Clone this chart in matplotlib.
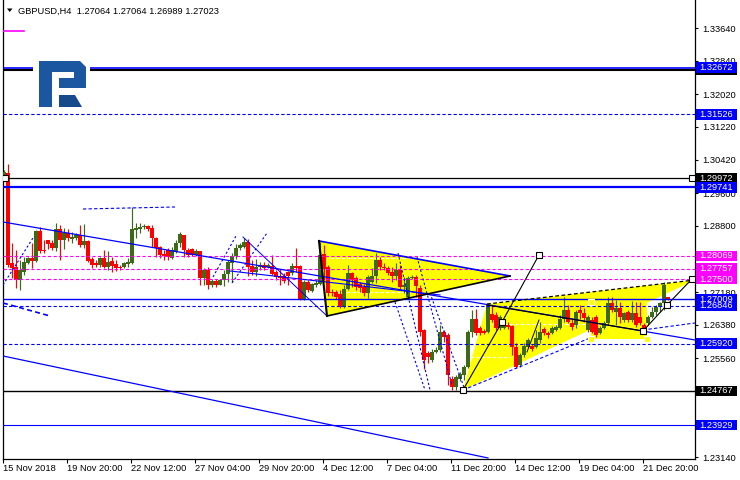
import numpy as np
import matplotlib
matplotlib.use("Agg")
import matplotlib.pyplot as plt
from matplotlib.patches import Rectangle, Polygon

plt.rcParams['font.family'] = ['Liberation Sans', 'DejaVu Sans']

# ---------------- data ----------------
title = "GBPUSD,H4  1.27064 1.27064 1.26989 1.27023"

opens = [
1.3005, 1.3010, 1.2790, 1.2780, 1.2748, 1.2768, 1.2790, 1.2802, 1.2794, 1.2868,
1.2821, 1.2846, 1.2838, 1.2826, 1.2873, 1.2846, 1.2863, 1.2848, 1.2851, 1.2858,
1.2834, 1.2843, 1.2799, 1.2790, 1.2785, 1.2802, 1.2780, 1.2794, 1.2787, 1.2780,
1.2780, 1.2787, 1.2790, 1.2870, 1.2873, 1.2877, 1.2880, 1.2875, 1.2851, 1.2829,
1.2812, 1.2821, 1.2802, 1.2816, 1.2838, 1.2858, 1.2821, 1.2824, 1.2809, 1.2819,
1.2753, 1.2772, 1.2736, 1.2745, 1.2736, 1.2748, 1.2763, 1.2790, 1.2807, 1.2826,
1.2829, 1.2841, 1.2782, 1.2768, 1.2780, 1.2785, 1.2780, 1.2782, 1.2768, 1.2758,
1.2758, 1.2768, 1.2765, 1.2782, 1.2782, 1.2701, 1.2743, 1.2721, 1.2736, 1.2738,
1.2812, 1.2780, 1.2719, 1.2719, 1.2714, 1.2682, 1.2726, 1.2765, 1.2753, 1.2738,
1.2731, 1.2716, 1.2743, 1.2758, 1.2797, 1.2780, 1.2777, 1.2768, 1.2758, 1.2772,
1.2731, 1.2706, 1.2753, 1.2755, 1.2728, 1.2626, 1.2569, 1.2552, 1.2572, 1.2577,
1.2621, 1.2613, 1.2506, 1.2486, 1.2506, 1.2516, 1.2535, 1.2621, 1.2653, 1.2631,
1.2623, 1.2621, 1.2665, 1.2662, 1.2631, 1.2631, 1.2638, 1.2636, 1.2584, 1.2540,
1.2565, 1.2584, 1.2587, 1.2584, 1.2601, 1.2628, 1.2618, 1.2618, 1.2626, 1.2631,
1.2653, 1.2675, 1.2643, 1.2638, 1.2675, 1.2667, 1.2626, 1.2650, 1.2657, 1.2618,
1.2631, 1.2643, 1.2692, 1.2670, 1.2680, 1.2650, 1.2670, 1.2650, 1.2667, 1.2657,
1.2638, 1.2643, 1.2657, 1.2670, 1.2682, 1.2692, 1.27064]

highs = [
1.3017, 1.3032, 1.2838, 1.2821, 1.2797, 1.2804, 1.2804, 1.2838, 1.2870, 1.2877,
1.2846, 1.2846, 1.2846, 1.2887, 1.2882, 1.2875, 1.2873, 1.2865, 1.2863, 1.2882,
1.2885, 1.2846, 1.2804, 1.2797, 1.2804, 1.2821, 1.2819, 1.2804, 1.2797, 1.2785,
1.2792, 1.2802, 1.2926, 1.2887, 1.2887, 1.2885, 1.2882, 1.2882, 1.2853, 1.2831,
1.2821, 1.2826, 1.2829, 1.2846, 1.2865, 1.2858, 1.2826, 1.2826, 1.2824, 1.2819,
1.2777, 1.2780, 1.2750, 1.2750, 1.2750, 1.2772, 1.2797, 1.2814, 1.2836, 1.2838,
1.2851, 1.2848, 1.2797, 1.2799, 1.2792, 1.2792, 1.2790, 1.2809, 1.2772, 1.2775,
1.2765, 1.2770, 1.2790, 1.2826, 1.2785, 1.2748, 1.2748, 1.2741, 1.2748, 1.2841,
1.2834, 1.2785, 1.2726, 1.2724, 1.2724, 1.2736, 1.2785, 1.2768, 1.2758, 1.2743,
1.2738, 1.2760, 1.2777, 1.2814, 1.2804, 1.2790, 1.2782, 1.2780, 1.2790, 1.2785,
1.2755, 1.2758, 1.2760, 1.2760, 1.2736, 1.2628, 1.2574, 1.2579, 1.2584, 1.2638,
1.2626, 1.2618, 1.2513, 1.2516, 1.2523, 1.2540, 1.2626, 1.2675, 1.2677, 1.2636,
1.2628, 1.2687, 1.2687, 1.2670, 1.2662, 1.2650, 1.2645, 1.2638, 1.2594, 1.2569,
1.2594, 1.2606, 1.2592, 1.2626, 1.2645, 1.2633, 1.2623, 1.2636, 1.2638, 1.2662,
1.2706, 1.2687, 1.2655, 1.2675, 1.2687, 1.2680, 1.2662, 1.2657, 1.2662, 1.2636,
1.2648, 1.2706, 1.2706, 1.2699, 1.2694, 1.2670, 1.2675, 1.2697, 1.2694, 1.2694,
1.2643, 1.2662, 1.2682, 1.2687, 1.2694, 1.2743, 1.27064]

lows = [
1.3002, 1.2780, 1.2753, 1.2728, 1.2724, 1.2760, 1.2788, 1.2777, 1.2792, 1.2814,
1.2814, 1.2824, 1.2821, 1.2819, 1.2797, 1.2824, 1.2843, 1.2838, 1.2846, 1.2829,
1.2826, 1.2792, 1.2777, 1.2780, 1.2780, 1.2777, 1.2772, 1.2768, 1.2770, 1.2772,
1.2777, 1.2780, 1.2787, 1.2851, 1.2863, 1.2873, 1.2868, 1.2829, 1.2804, 1.2802,
1.2797, 1.2797, 1.2799, 1.2814, 1.2829, 1.2804, 1.2804, 1.2807, 1.2807, 1.2736,
1.2736, 1.2726, 1.2731, 1.2731, 1.2736, 1.2733, 1.2743, 1.2743, 1.2799, 1.2821,
1.2826, 1.2758, 1.2760, 1.2758, 1.2772, 1.2772, 1.2777, 1.2760, 1.2748, 1.2736,
1.2741, 1.2736, 1.2760, 1.2768, 1.2699, 1.2699, 1.2719, 1.2719, 1.2731, 1.2736,
1.2748, 1.2709, 1.2709, 1.2701, 1.2679, 1.2679, 1.2724, 1.2731, 1.2724, 1.2719,
1.2709, 1.2704, 1.2741, 1.2741, 1.2772, 1.2772, 1.2760, 1.2743, 1.2748, 1.2726,
1.2716, 1.2704, 1.2750, 1.2706, 1.2611, 1.2530, 1.2545, 1.2548, 1.2569, 1.2572,
1.2596, 1.2491, 1.2479, 1.2479, 1.2501, 1.2503, 1.2533, 1.2609, 1.2613, 1.2613,
1.2616, 1.2618, 1.2645, 1.2626, 1.2626, 1.2628, 1.2628, 1.2565, 1.2533, 1.2535,
1.2560, 1.2582, 1.2574, 1.2582, 1.2594, 1.2613, 1.2606, 1.2616, 1.2623, 1.2628,
1.2645, 1.2643, 1.2626, 1.2631, 1.2653, 1.2645, 1.2621, 1.2618, 1.2609, 1.2616,
1.2628, 1.2638, 1.2670, 1.2638, 1.2643, 1.2645, 1.2645, 1.2645, 1.2633, 1.2638,
1.2623, 1.2638, 1.2655, 1.2662, 1.2670, 1.2675, 1.26989]

closes = [
1.3012, 1.2785, 1.2777, 1.2748, 1.2772, 1.2792, 1.2802, 1.2794, 1.2868, 1.2819,
1.2819, 1.2836, 1.2826, 1.2873, 1.2846, 1.2863, 1.2851, 1.2853, 1.2858, 1.2834,
1.2843, 1.2794, 1.2785, 1.2785, 1.2802, 1.2780, 1.2792, 1.2782, 1.2777, 1.2777,
1.2790, 1.2792, 1.2873, 1.2875, 1.2877, 1.2880, 1.2873, 1.2851, 1.2826, 1.2809,
1.2807, 1.2804, 1.2821, 1.2838, 1.2860, 1.2821, 1.2809, 1.2809, 1.2819, 1.2753,
1.2772, 1.2736, 1.2745, 1.2736, 1.2748, 1.2763, 1.2792, 1.2807, 1.2826, 1.2834,
1.2841, 1.2780, 1.2768, 1.2780, 1.2785, 1.2777, 1.2785, 1.2763, 1.2755, 1.2753,
1.2745, 1.2758, 1.2782, 1.2777, 1.2701, 1.2743, 1.2724, 1.2738, 1.2741, 1.2809,
1.2775, 1.2716, 1.2716, 1.2706, 1.2682, 1.2726, 1.2765, 1.2748, 1.2731, 1.2728,
1.2716, 1.2755, 1.2758, 1.2797, 1.2780, 1.2777, 1.2765, 1.2758, 1.2772, 1.2731,
1.2736, 1.2753, 1.2755, 1.2733, 1.2621, 1.2552, 1.2560, 1.2572, 1.2577, 1.2621,
1.2609, 1.2516, 1.2486, 1.2511, 1.2518, 1.2535, 1.2621, 1.2653, 1.2618, 1.2618,
1.2618, 1.2687, 1.2650, 1.2631, 1.2657, 1.2638, 1.2633, 1.2584, 1.2535, 1.2565,
1.2587, 1.2601, 1.2579, 1.2606, 1.2621, 1.2618, 1.2613, 1.2631, 1.2633, 1.2653,
1.2675, 1.2645, 1.2633, 1.2670, 1.2667, 1.2655, 1.2657, 1.2621, 1.2613, 1.2631,
1.2643, 1.2692, 1.2675, 1.2680, 1.2657, 1.2667, 1.2650, 1.2667, 1.2638, 1.2643,
1.2626, 1.2657, 1.2670, 1.2682, 1.2692, 1.2736, 1.27023]

x_tick_bars = [-0.25, 15.75, 31.75, 47.75, 63.75, 79.75, 95.75, 111.75, 127.75, 143.75, 159.75]
x_tick_labels = ["15 Nov 2018", "19 Nov 20:00", "22 Nov 12:00", "27 Nov 04:00",
                 "29 Nov 20:00", "4 Dec 12:00", "7 Dec 04:00", "11 Dec 20:00",
                 "14 Dec 12:00", "19 Dec 04:00", "21 Dec 20:00"]
y_ticks = [1.33640, 1.32840, 1.32020, 1.31220, 1.30420, 1.29600, 1.28800,
           1.27980, 1.27180, 1.26380, 1.25560, 1.24760, 1.23940, 1.23140]
# tick labels fully covered by price boxes in the reference are left blank
y_hidden = [1.27980, 1.24760, 1.23940]

# horizontal levels: (price, color, style, width)
h_levels = [
    (1.32610, 'black', '-', 1.5),
    (1.32672, '#0000ff', '-', 1.2),
    (1.31526, '#0000ff', 'dash', 0.8),
    (1.29741, '#0000ff', '-', 1.6),
    (1.28069, '#ff00ff', 'mdash', 0.8),
    (1.27757, '#ff00ff', 'mdash', 0.8),
    (1.27500, '#ff00ff', 'mdash', 0.8),
    (1.27009, '#0000ff', '-', 1.0),
    (1.26846, '#0000ff', 'dash', 0.8),
    (1.25920, '#0000ff', 'dash', 0.8),
    (1.24767, 'black', '-', 1.0),
    (1.23929, '#0000ff', '-', 0.8),
]
# right-axis price boxes (price, box colour)
price_boxes = [
    (1.32610, 'black'), (1.32672, '#0000ff'), (1.31526, '#0000ff'),
    (1.29972, 'black'), (1.29741, '#0000ff'),
    (1.28069, '#ff00ff'), (1.27757, '#ff00ff'), (1.27500, '#ff00ff'),
    (1.26846, '#0000ff'), (1.27009, '#0000ff'), (1.25920, '#0000ff'),
    (1.24767, 'black'), (1.23929, '#0000ff'),
]
box_texts = {1.32610: "", 1.32672: "1.32672", 1.31526: "1.31526", 1.29972: "1.29972",
             1.29741: "1.29741", 1.28069: "1.28069", 1.27757: "1.27757", 1.27500: "1.27500",
             1.26846: "1.26846", 1.27009: "1.27009", 1.25920: "1.25920",
             1.24767: "1.24767", 1.23929: "1.23929"}

# black level with square ends
level_black_bars = [0.25, 172.0]
level_black_price = 1.29972

# trend lines: (bar0, price0, bar1, price1, colour, style, width)
trend_lines = [
    (-0.25, 1.28897, 172.75, 1.26012, '#0000ff', '-', 0.9),
    (-0.25, 1.25621, 121.0, 1.23127, '#0000ff', '-', 0.9),
    (59.75, 1.28530, 80.75, 1.26599, '#0000ff', '-', 0.7),
    (56.5, 1.27699, 109.0, 1.27112, '#0000ff', '-', 0.8),
    (19.75, 1.29215, 42.75, 1.29264, '#0000ff', 'dash', 0.8),
    (-0.25, 1.26917, 11.5, 1.26599, '#0000ff', 'dash', 1.2),
    (-0.25, 1.27357, 7.25, 1.28506, '#0000ff', 'dot', 0.8),
    (52.25, 1.27553, 58.0, 1.28555, '#0000ff', 'dot', 0.8),
    (57.0, 1.27406, 65.75, 1.28628, '#0000ff', 'dot', 0.8),
    (98.5, 1.28139, 106.5, 1.24789, '#0000ff', 'dot', 0.8),
    (97.75, 1.26941, 105.25, 1.24789, '#0000ff', 'dot', 0.8),
    (103.25, 1.28042, 112.0, 1.24912, '#0000ff', 'dot', 0.8),
    (106.5, 1.27161, 115.25, 1.24789, '#0000ff', 'dot', 0.8),
    (114.75, 1.24789, 146.5, 1.26061, '#0000ff', 'dash', 0.8),
    (159.75, 1.26257, 172.75, 1.26428, '#0000ff', 'dash', 0.8),
    (120.75, 1.26892, 172.75, 1.27479, 'black', 'dash', 0.9),
    (120.75, 1.26868, 159.75, 1.26232, 'black', '-', 0.8),
    (130.75, 1.25719, 133.75, 1.26501, 'black', '-', 0.7),
    (78.75, 1.28433, 126.5, 1.27577, '#0000ff', '-', 1.2),
    (80.75, 1.26599, 126.5, 1.27577, 'black', '-', 1.2),
    (78.75, 1.28433, 80.75, 1.26599, 'black', '-', 1.5),
]
white_dash_lines = [
    (81.5, 104.0, 1.28017), (81.5, 104.0, 1.27186),
    (120.75, 149.0, 1.26403), (116.5, 126.5, 1.25597),
]
tri1 = [(78.75, 1.28433), (80.75, 1.26599), (126.5, 1.27577)]
tri2 = [(114.75, 1.24789), (120.75, 1.26892), (172.75, 1.27479)]
rect_bars = [146.75, 160.75]
rect_prices = [1.26036, 1.26941]
zig1_bars = [114.75, 124.5, 133.75]
zig1_prices = [1.24789, 1.26452, 1.28091]
zig2_bars = [159.75, 165.75, 172.0]
zig2_prices = [1.26232, 1.26868, 1.27504]
magenta_mark_bars = [-0.25, 5.0]
magenta_mark_price = 1.33555

# ---------------- figure ----------------
W, H = 740, 480
fig = plt.figure(figsize=(W / 100, H / 100), dpi=100)
ax_l, ax_r, ax_t, ax_b = 2.5, 695.0, 0.0, 459.0
ax = fig.add_axes([ax_l / W, 1 - ax_b / H, (ax_r - ax_l) / W, (ax_b - ax_t) / H])
ax.set_xlim(-0.375, 172.75)
ax.set_ylim(1.23102, 1.34325)
px_per_price = (ax_b - ax_t) / (1.34325 - 1.23102)

def axfrac(px):
    return (px - ax_l) / (ax_r - ax_l)

styles = {'-': '-', 'dash': (0, (3, 2)), 'mdash': (0, (3, 2)), 'dot': (0, (2, 2))}

# yellow fills
ax.add_patch(Polygon(tri1, closed=True, facecolor='#ffff00', edgecolor='none', zorder=1))
ax.add_patch(Polygon(tri2, closed=True, facecolor='#ffff00', edgecolor='none', zorder=1))
ax.add_patch(Rectangle((rect_bars[0], rect_prices[0]), rect_bars[1] - rect_bars[0],
                       rect_prices[1] - rect_prices[0], facecolor='#ffff00', edgecolor='none', zorder=1))
for b0, b1, p in white_dash_lines:
    ax.plot([b0, b1], [p, p], color='white', lw=0.8, ls=(0, (3, 2)), zorder=1.5)

# horizontal levels
for p, c, s, w in h_levels:
    ax.axhline(p, color=c, lw=w, ls=styles[s], zorder=4)
ax.plot(level_black_bars, [level_black_price] * 2, color='black', lw=0.9, zorder=4,
        marker='s', ms=4, mfc='white', mec='black', mew=0.8)

# trend lines
for b0, p0, b1, p1, c, s, w in trend_lines:
    ax.plot([b0, b1], [p0, p1], color=c, lw=w, ls=styles[s], zorder=4)
ax.plot(zig1_bars, zig1_prices, color='black', lw=0.8, zorder=5,
        marker='s', ms=4, mfc='white', mec='black', mew=0.8)
ax.plot(zig2_bars, zig2_prices, color='black', lw=0.8, zorder=5,
        marker='s', ms=4, mfc='white', mec='black', mew=0.8)
ax.plot([rect_bars[0], rect_bars[0], rect_bars[1]],
        [rect_prices[1], rect_prices[0], rect_prices[0]], ls='none', marker='s', ms=4,
        mfc='#ffff00', mec='white', mew=0.8, zorder=5)
ax.plot(magenta_mark_bars, [magenta_mark_price] * 2, color='#ff00ff', lw=1.2, zorder=4)

# candles
o = np.array(opens); h = np.array(highs); l = np.array(lows); c = np.array(closes)
xb = np.arange(len(o))
up = c >= o
green, red = '#3c6a18', '#ff0000'
cols = np.where(up, green, red)
ax.vlines(xb, l, h, colors=cols, lw=0.85, zorder=3)
body_low = np.minimum(o, c)
body_h = np.maximum(np.abs(c - o), 0.00014)
ax.bar(xb, body_h, bottom=body_low, width=0.8, color=cols, lw=0, zorder=3.2)

# axes styling
ax.spines['top'].set_visible(False)
for s in ['left', 'right', 'bottom']:
    ax.spines[s].set_linewidth(0.9)
    ax.spines[s].set_color('black')
ax.yaxis.tick_right()
ax.set_yticks(y_ticks)
ax.set_yticklabels(["" if v in y_hidden else f"{v:.5f}" for v in y_ticks])
ax.tick_params(axis='y', length=2.5, pad=2.5, labelsize=6.7, width=0.8)
ax.set_xticks(x_tick_bars)
ax.set_xticklabels(x_tick_labels, ha='left')
ax.tick_params(axis='x', length=3, pad=0.8, labelsize=6.7, width=0.8)

# price boxes on right axis
ytr = ax.get_yaxis_transform()
box_h = 10.5 / px_per_price
for p, bc in price_boxes:
    ax.add_patch(Rectangle((axfrac(696), p - box_h / 2), axfrac(737) - axfrac(696), box_h,
                           transform=ytr, clip_on=False, facecolor=bc, edgecolor='none', zorder=10))
    ax.text(axfrac(699.5), p, box_texts[p], transform=ytr, ha='left', va='center',
            fontsize=6.7, color='white', clip_on=False, zorder=11)

# overlay (title, logo)
ov = fig.add_axes([0, 0, 1, 1], zorder=20)
ov.set_xlim(0, W); ov.set_ylim(H, 0); ov.axis('off'); ov.patch.set_alpha(0)
ov.add_patch(Polygon([(7, 8.5), (12.5, 8.5), (9.75, 12)], closed=True, facecolor='black'))
ov.text(18, 11, title, fontsize=6.7, va='center', ha='left', color='black')
ov.add_patch(Rectangle((33, 58), 57, 51, facecolor='white', edgecolor='none'))
logo_c = '#1b56a0'
ov.add_patch(Polygon([(39, 61), (80, 61), (86, 67), (86, 88), (59, 88), (59, 78),
                      (74, 78), (74, 72), (52, 72), (52, 107), (39, 107)],
                     closed=True, facecolor=logo_c, edgecolor='none'))
ov.add_patch(Polygon([(59, 95), (75, 95), (82, 107), (59, 107)], closed=True,
                     facecolor='#174a8c', edgecolor='none'))

fig.savefig('out.png', dpi=100)
